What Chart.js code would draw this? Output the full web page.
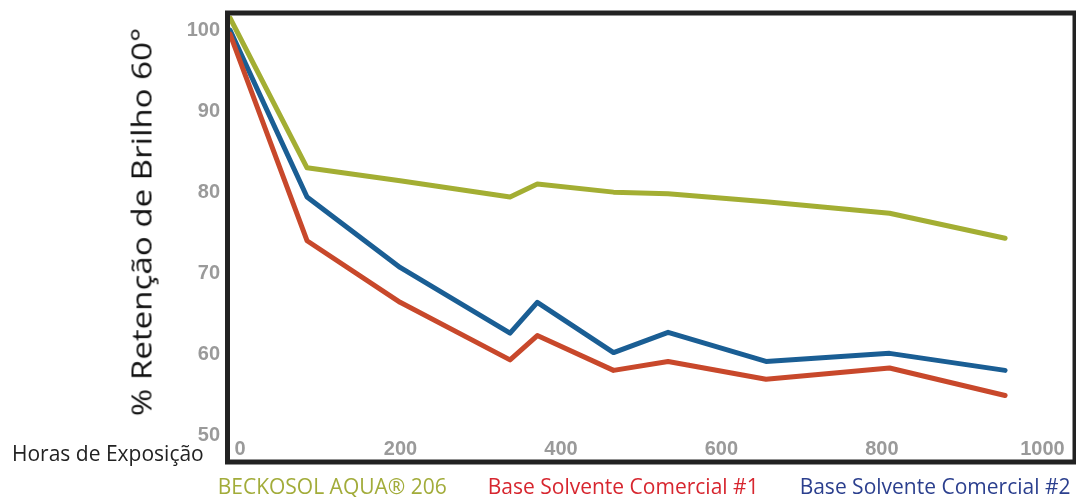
<!DOCTYPE html>
<html>
<head>
<meta charset="utf-8">
<script src="https://cdn.jsdelivr.net/npm/chart.js@4.4.1/dist/chart.umd.min.js"></script>
<style>
  html, body { margin: 0; padding: 0; background: #fff; overflow: hidden; }
  #wrap { position: relative; width: 1076px; height: 497px; }
  #yTitle {
    position: absolute; left: 141px; top: 222px;
    transform: translate(-50%, -50%) rotate(-90deg) scaleX(1.226);
    font-family: "Open Sans", sans-serif; font-size: 27px; color: #111;
    white-space: nowrap;
  }
  #xTitle {
    position: absolute; left: 12px; top: 443px;
    font-family: "Open Sans", sans-serif; font-size: 21px; line-height: 21px; color: #222;
    white-space: nowrap;
  }
</style>
</head>
<body>
<div id="wrap">
  <canvas id="myChart" width="1076" height="497"></canvas>
  <div id="yTitle">% Retenção de Brilho 60°</div>
  <div id="xTitle">Horas de Exposição</div>
</div>
<script>
// horas de exposição
const hours = [0, 96, 212, 349, 383, 478, 546, 668, 822, 966];
const beckosol = [101.5, 83.0, 81.4, 79.4, 81.0, 80.0, 79.8, 78.8, 77.4, 74.3];
const solvente1 = [99.5, 74.0, 66.4, 59.3, 62.3, 58.0, 59.1, 56.9, 58.3, 54.9];
const solvente2 = [100, 79.4, 70.7, 62.6, 66.4, 60.2, 62.7, 59.1, 60.1, 58.0];
const seriesNames = ['BECKOSOL AQUA® 206', 'Base Solvente Comercial #1', 'Base Solvente Comercial #2'];
const xTicks = [0, 200, 400, 600, 800, 1000];
const yTicks = [50, 60, 70, 80, 90, 100];

const lineColors = ['#a3ae33', '#c8482b', '#1a5e94'];
const textColors = ['#a2ac3a', '#d7262f', '#2b3f8e'];

function points(values) {
  return values.map((v, i) => ({ x: hours[i], y: v }));
}

// moldura preta em volta da área do gráfico
const frame = {
  id: 'frame',
  afterDatasetsDraw(chart) {
    const a = chart.chartArea;
    const ctx = chart.ctx;
    ctx.save();
    ctx.strokeStyle = '#222';
    ctx.lineWidth = 5;
    ctx.strokeRect(a.left - 2.5, a.top - 2.5, a.right - a.left + 5, a.bottom - a.top + 5);
    ctx.restore();
  }
};

function noPad(s) {
  s.paddingTop = 0;
  s.paddingBottom = 0;
  s.paddingLeft = 0;
  s.paddingRight = 0;
}

const ctx = document.getElementById('myChart');
new Chart(ctx, {
  type: 'line',
  data: {
    datasets: [beckosol, solvente1, solvente2].map((vals, i) => ({
      label: seriesNames[i],
      data: points(vals),
      borderColor: lineColors[i],
      borderWidth: 5,
      tension: 0,
      pointRadius: 0,
      borderCapStyle: 'round',
      borderJoinStyle: 'round',
      fill: false
    }))
  },
  options: {
    responsive: false,
    animation: false,
    layout: { padding: { left: 0, top: 15.5, right: 3.5, bottom: 0 } },
    plugins: {
      tooltip: { enabled: false },
      legend: {
        position: 'bottom',
        align: 'end',
        maxHeight: 21.5,
        labels: {
          boxWidth: 28.5,
          padding: 2,
          font: { family: 'Open Sans', size: 21 },
          generateLabels: chart => chart.data.datasets.map((ds, i) => ({
            text: ds.label,
            fontColor: textColors[i],
            fillStyle: 'rgba(0,0,0,0)',
            strokeStyle: 'rgba(0,0,0,0)',
            lineWidth: 0,
            hidden: false,
            datasetIndex: i
          }))
        }
      }
    },
    scales: {
      x: {
        type: 'linear',
        min: 0,
        max: 1050,
        grid: { display: false, drawTicks: false },
        border: { display: false },
        afterFit: s => { s.height = 16; noPad(s); },
        afterBuildTicks: s => { s.ticks = xTicks.map(v => ({ value: v })); },
        ticks: {
          mirror: true,
          padding: -2,
          labelOffset: 10,
          maxRotation: 0,
          autoSkip: false,
          callback: v => String(v),
          color: '#9a9a9a',
          font: { family: 'Liberation Sans', size: 20, weight: 'bold' }
        }
      },
      y: {
        min: 47,
        max: 101.8,
        grid: { display: false, drawTicks: false },
        border: { display: false },
        afterFit: s => { s.width = 230; noPad(s); },
        afterBuildTicks: s => { s.ticks = yTicks.map(v => ({ value: v })); },
        ticks: {
          padding: 10,
          callback: v => String(v),
          color: '#9a9a9a',
          font: { family: 'Liberation Sans', size: 20, weight: 'bold' }
        }
      }
    }
  },
  plugins: [frame]
});
</script>
</body>
</html>
